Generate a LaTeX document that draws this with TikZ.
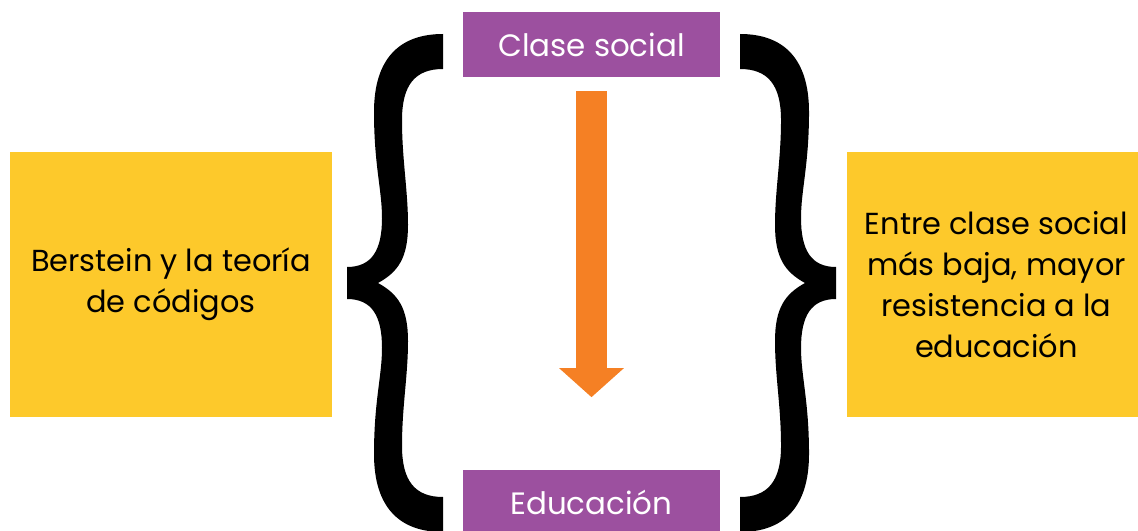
\documentclass[tikz,border=0pt]{standalone}
\usepackage{fontspec}
\setmainfont{Poppins}
\usepackage{xcolor}
\usepackage{tikz}
\usetikzlibrary{positioning}
\usetikzlibrary{arrows.meta}
\definecolor{boxyellow}{HTML}{FDC92B}
\definecolor{topicpurple}{HTML}{9C509F}
\definecolor{arroworange}{HTML}{F58024}
\newcommand{\bracepath}{(443,34) .. controls (400,34) and (374,58) .. (374,112)
  .. controls (374,165) and (382,190) .. (382,218)
  .. controls (382,250) and (372,267) .. (347,267) -- (347,299)
  .. controls (372,299) and (382,316) .. (382,348)
  .. controls (382,376) and (374,401) .. (374,454)
  .. controls (374,508) and (400,532) .. (443,532) -- (443,497)
  .. controls (415,497) and (402,481) .. (402,446)
  .. controls (402,406) and (408,376) .. (408,341)
  .. controls (408,308) and (398,294) .. (378,283)
  .. controls (398,272) and (408,258) .. (408,225)
  .. controls (408,190) and (402,160) .. (402,120)
  .. controls (402,85) and (415,69) .. (443,69) -- cycle}

\begin{document}
\begin{tikzpicture}[x=1bp, y=-1bp, align=center,
    infobox/.style={fill=boxyellow, minimum height=265bp, inner sep=0pt,
      font=\fontsize{30.5}{41}\selectfont},
    topicbox/.style={fill=topicpurple, text=white, minimum width=257bp,
      minimum height=65bp, inner sep=0pt, font=\fontsize{31}{40}\selectfont}]
  \useasboundingbox (0,0) rectangle (1138,531);
  \clip (0,0) rectangle (1138,531);
  \node[topicbox] (clase) at (591.5,44.5) {Clase social};
  \node[topicbox] (educacion) [below=393bp of clase] {Educación};
  \node[infobox, minimum width=322bp] (berstein) at (171,284.5) {Berstein y la teoría\\de códigos};
  \node[infobox, minimum width=298bp] (entre) [right=515bp of berstein] {Entre clase social\\más baja, mayor\\resistencia a la\\educación};
  \draw[draw=arroworange, line width=31bp, -{Triangle[width=63bp, length=29bp]},
    shorten <=14bp, shorten >=73bp] (clase) -- (educacion);
  % braces
  \fill \bracepath;
  \begin{scope}[xshift=1183bp, xscale=-1]
    \fill \bracepath;
  \end{scope}
\end{tikzpicture}
\end{document}
